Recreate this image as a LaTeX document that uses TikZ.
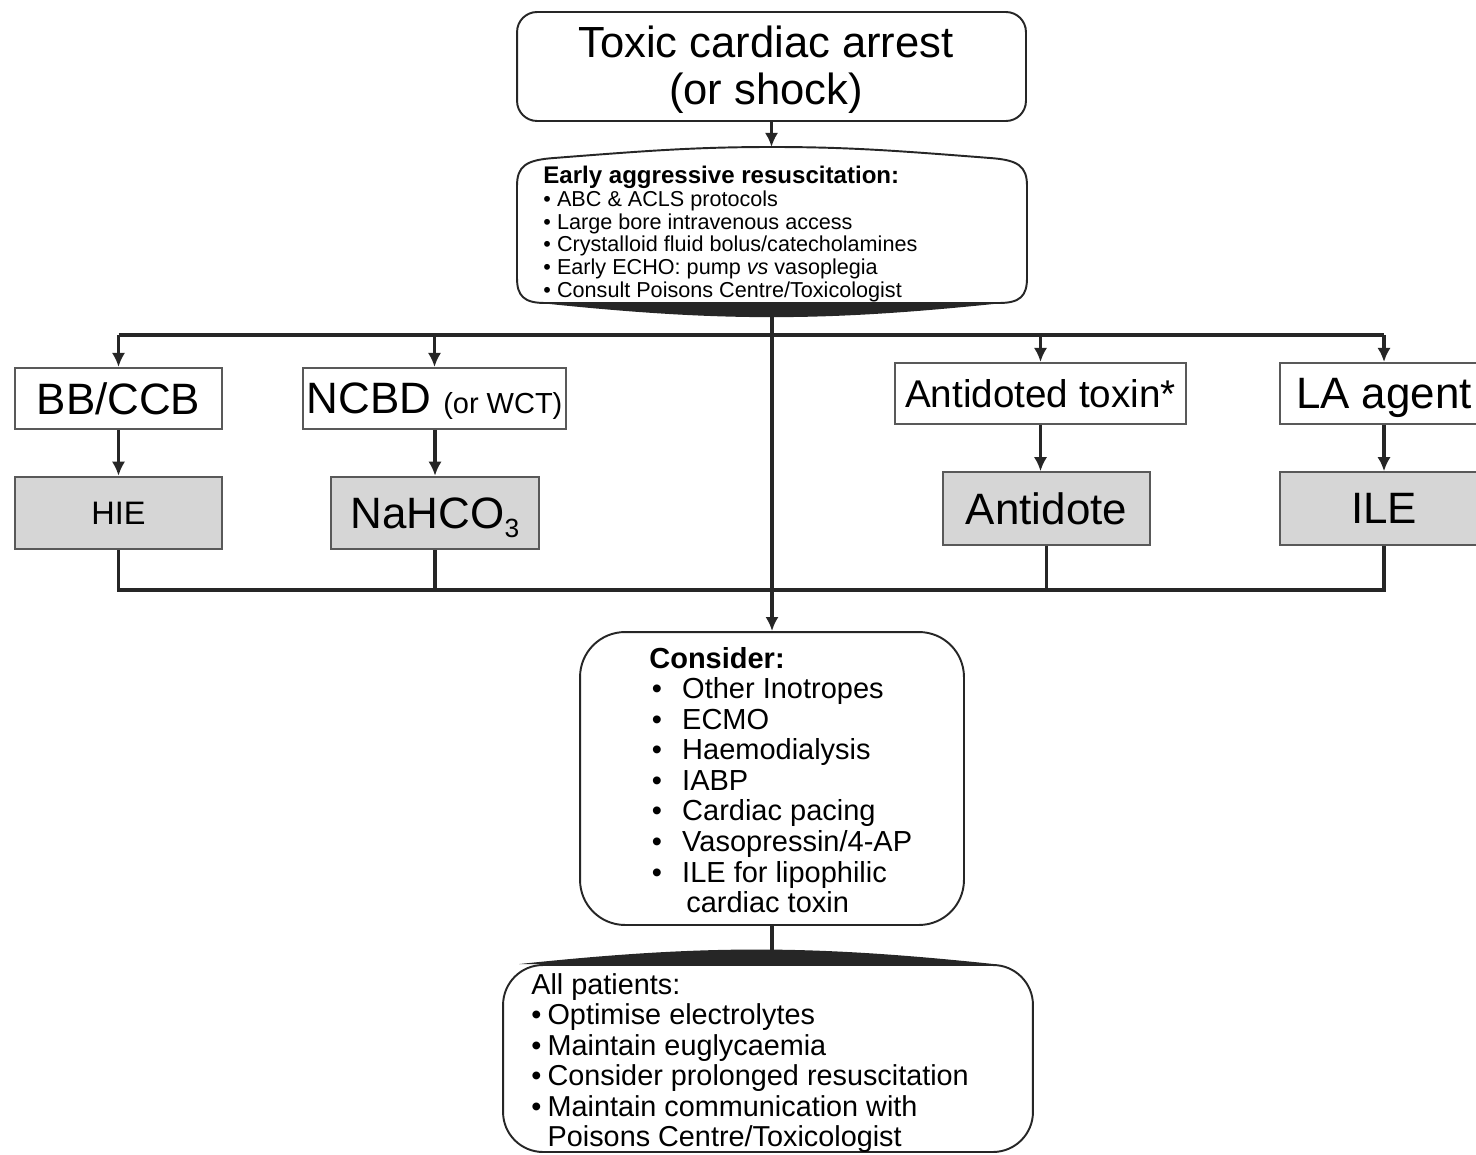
\documentclass[tikz,border=0pt]{standalone}
\usepackage{fontspec}
\setmainfont{Liberation Sans}
\usetikzlibrary{arrows.meta}
\newcommand{\cbul}{\makebox[18.7pt][l]{\hspace{1.5pt}\textbullet}}
\newcommand{\abul}{\textbullet\hspace{3.5pt}}
\tikzset{
  plainbox/.style={draw=black!65, line width=1.1pt, fill=white, inner sep=1pt,
    minimum height=1.22cm, text depth=0pt, font=\fontsize{25}{27}\selectfont},
  shadebox/.style={plainbox, fill=black!16, minimum height=1.45cm},
  rim/.style={draw=black!85, line width=1.1pt, fill=white},
  softbox/.style={rim, rounded corners=#1},
  softbox/.default=0.6cm,
  textonly/.style={inner sep=0pt, align=left},
  link/.style={line width=1.8pt, draw=black!85},
  arrowed/.style={link, -{Latex[length=8pt,width=7.5pt]}},
}
\begin{document}
\begin{tikzpicture}[x=0.02cm, y=-0.02cm]
   \useasboundingbox (0,0) rectangle (1476,1155);
   % top of the chart
   \node[softbox=0.4cm, minimum width=10.18cm, minimum height=2.18cm] (arrest)
     at (771.5,66.5) {};
   \node[textonly, align=center, font=\fontsize{24.8}{26.6}\selectfont] (arresttext)
     at (766,70) {Toxic cardiac arrest\\(or shock)};
   \draw[rim]
     (517,230) -- (517,278) .. controls (517,296) and (524,303) .. (545,303)
     -- (999,303) .. controls (1020,303) and (1027,296) .. (1027,278)
     -- (1027,186) .. controls (1027,166) and (1018,160) .. (990,158)
     .. controls (900,151) and (850,147) .. (772,147)
     .. controls (694,147) and (644,151) .. (554,158)
     .. controls (526,160) and (517,166) .. (517,186) -- cycle;
   \coordinate (resustop) at (772,147);
   \coordinate (resusfoot) at (772,303);
   \node[textonly, anchor=west, font=\fontsize{12.3}{13}\selectfont] (resus) at (543,234)
     {{\bfseries\fontsize{13.7}{13}\selectfont Early aggressive resuscitation:}\\
      \abul ABC \& ACLS protocols\\
      \abul Large bore intravenous access\\
      \abul Crystalloid fluid bolus/catecholamines\\
      \abul Early ECHO: pump \textit{vs} vasoplegia\\
      \abul Consult Poisons Centre/Toxicologist};
   % toxin groups
   \node[plainbox, minimum width=4.14cm] (bbccb) at (118.5,398.5) {BB/CCB};
   \node[plainbox, minimum width=5.26cm] (ncbd) at (434.5,398.5)
     {NCBD {\fontsize{16.5}{16.5}\selectfont (or WCT)}};
   \node[plainbox, minimum width=5.82cm, font=\fontsize{22}{24}\selectfont] (antitox)
     at (1040.5,393.5) {Antidoted toxin*};
   \node[plainbox, minimum width=4.16cm] (lagent) at (1384,393.5) {LA agent};
   % treatments
   \node[shadebox, minimum width=4.14cm, font=\fontsize{18.5}{20}\selectfont] (hie)
     at (118.5,513) {HIE};
   \node[shadebox, minimum width=4.16cm] (nahco) at (435,513)
     {NaHCO\raisebox{-5pt}{\fontsize{15}{15}\selectfont 3}};
   \node[shadebox, minimum width=4.14cm] (antidote) at (1046.5,508.5) {Antidote};
   \node[shadebox, minimum width=4.16cm] (ile) at (1384,508.5) {ILE};
   % lower part
   \node[softbox=0.9cm, minimum width=7.68cm, minimum height=5.86cm] (consider)
     at (772,778.5) {};
   \node[textonly, anchor=west, font=\fontsize{16.5}{17.4}\selectfont] (considerlist)
     at (649,780)
     {\textbf{Consider:}\\
      \cbul Other Inotropes\\
      \cbul ECMO\\
      \cbul Haemodialysis\\
      \cbul IABP\\
      \cbul Cardiac pacing\\
      \cbul Vasopressin/4-AP\\
      \cbul ILE for lipophilic\\
      \hspace*{21pt}cardiac toxin};
   \node[softbox=0.8cm, minimum width=10.6cm, minimum height=3.74cm] (allpat)
     at (768,1058.5) {};
   \node[textonly, anchor=west, font=\fontsize{16.4}{17.4}\selectfont] (allpatlist)
     at (531,1063)
     {All patients:\\
      \abul Optimise electrolytes\\
      \abul Maintain euglycaemia\\
      \abul Consider prolonged resuscitation\\
      \abul Maintain communication with\\
      \hspace*{9.3pt}Poisons Centre/Toxicologist};
   % connectors
   \coordinate (fork) at (771,335);
   \coordinate (merge) at (771,590);
   \draw[arrowed] (arrest.south) -- (arrest.south |- resustop);
   \draw[link] (bbccb.north |- fork) -- (lagent.north |- fork);
   \foreach \n in {bbccb,ncbd,antitox,lagent}
     \draw[arrowed] (\n.north |- fork) -- (\n.north);
   \draw[arrowed] (bbccb) -- (hie);
   \draw[arrowed] (ncbd.south -| nahco) -- (nahco);
   \draw[arrowed] (antitox.south) -- (antitox.south |- antidote.north);
   \draw[arrowed] (lagent) -- (ile);
   \draw[link] (hie.south) -- (hie.south |- merge) -- (ile.south |- merge) -- (ile.south);
   \foreach \n in {nahco,antidote}
     \draw[link] (\n.south) -- (\n.south |- merge);
   \draw[arrowed] (resusfoot) -- (consider.north);
   \draw[link] (consider.south) -- (consider.south |- allpat.north);
   % heavy rims
   \fill[black!85] (540,303) to[bend right=6] (1003,303) -- cycle;
   \fill[black!85] ([xshift=0.34cm]allpat.north west) to[bend left=6]
     ([xshift=-0.8cm]allpat.north east) -- cycle;
\end{tikzpicture}
\end{document}
